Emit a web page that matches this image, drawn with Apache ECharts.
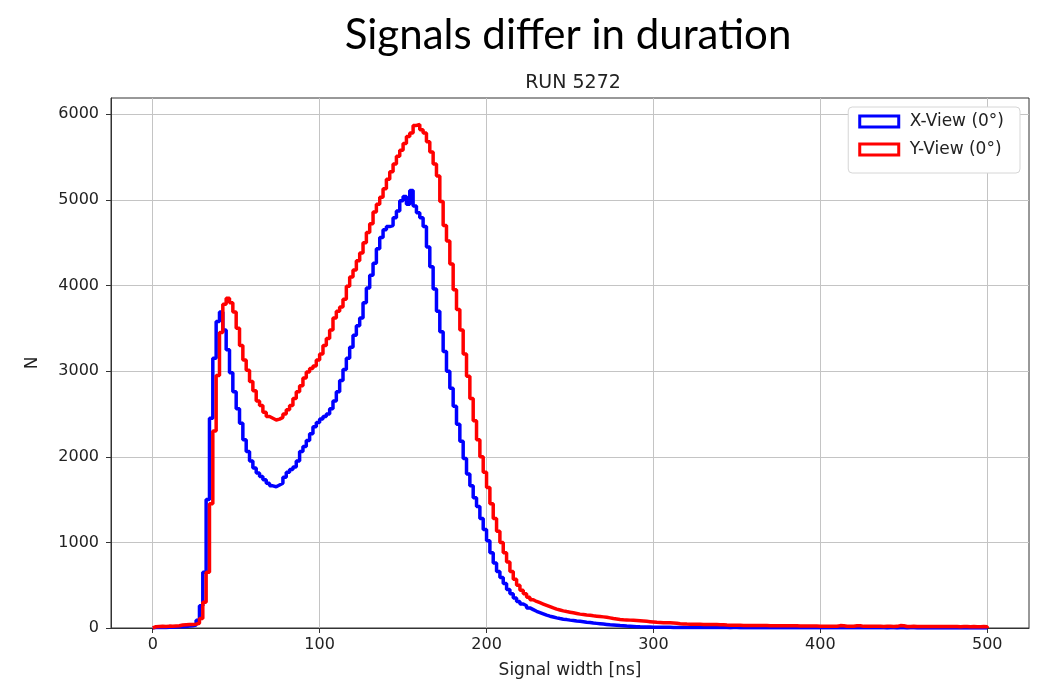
<!DOCTYPE html>
<html>
<head>
<meta charset="utf-8">
<script src="https://cdn.jsdelivr.net/npm/echarts@6/dist/echarts.min.js"></script>
<style>
html,body{margin:0;padding:0;background:#fff;}
#chart{width:1038px;height:685px;}
</style>
</head>
<body>
<div id="chart"></div>
<script>
// Histogram bin settings (ns)
const binStart = 0;
const binWidth = 2;
const xTicks = [0, 100, 200, 300, 400, 500];
const yTicks = [0, 1000, 2000, 3000, 4000, 5000, 6000];

// X-View (0°) counts per 2 ns bin, 0..500 ns
const xViewCounts = [
  5,6,8,7,10,9,12,14,16,18,
  22,26,35,90,260,650,1500,2450,3150,3580,
  3690,3480,3250,2980,2760,2560,2390,2200,2060,1950,
  1870,1810,1770,1730,1690,1660,1650,1670,1690,1760,
  1820,1850,1880,1950,2060,2120,2190,2270,2350,2400,
  2440,2470,2500,2560,2650,2760,2890,3020,3150,3280,
  3420,3530,3620,3800,3970,4120,4260,4430,4560,4650,
  4690,4700,4790,4870,4990,5040,4950,5110,4930,4850,
  4790,4690,4450,4220,3960,3700,3460,3230,3000,2800,
  2590,2380,2180,1980,1800,1660,1520,1420,1280,1150,
  1020,880,760,660,590,520,450,400,350,310,
  280,260,235,215,195,180,165,150,138,128,
  118,110,103,98,92,88,82,78,74,68,
  64,58,54,50,46,42,38,35,32,28,
  25,22,20,18,16,14,13,12,11,10,
  9,9,8,8,8,7,7,7,7,6,
  6,6,6,5,6,5,5,5,6,5,
  5,5,4,5,5,4,4,5,4,4,
  4,4,4,3,4,4,3,4,3,3,
  3,4,3,3,3,3,2,3,3,3,
  3,2,3,2,3,2,2,3,2,2,
  2,2,2,3,2,2,2,2,2,1,
  2,2,1,2,2,1,2,2,1,2,
  1,2,1,1,2,1,1,2,1,1,
  1,1,1,2,1,1,1,1,1,1
];

// Y-View (0°) counts per 2 ns bin, 0..500 ns
const yViewCounts = [
  15,18,20,17,22,20,24,26,35,38,
  40,42,45,55,110,300,650,1450,2300,2950,
  3450,3780,3850,3800,3690,3500,3300,3130,3010,2880,
  2770,2650,2600,2520,2470,2450,2430,2440,2460,2500,
  2550,2600,2680,2760,2830,2920,2990,3030,3060,3130,
  3200,3300,3380,3480,3620,3700,3750,3840,3990,4100,
  4180,4290,4380,4500,4620,4720,4860,4950,5030,5130,
  5240,5330,5420,5510,5580,5660,5740,5780,5870,5880,
  5820,5780,5680,5560,5420,5280,4980,4700,4520,4250,
  3950,3720,3480,3200,2940,2680,2420,2200,2000,1820,
  1640,1450,1280,1130,1000,880,770,660,570,500,
  440,400,360,330,310,295,280,265,250,235,
  220,210,200,192,185,178,170,162,158,152,
  148,142,138,134,130,125,118,110,105,100,
  96,94,92,90,88,86,82,78,74,70,
  66,64,62,60,60,58,56,50,48,46,
  45,44,44,43,42,42,41,40,40,39,
  38,34,33,32,32,31,30,30,30,29,
  29,28,28,28,27,27,27,26,26,26,
  25,25,25,24,24,24,23,23,22,21,
  21,20,21,20,20,28,27,20,19,20,
  27,26,19,20,19,19,20,19,18,19,
  19,18,19,28,27,18,18,19,18,18,
  17,18,18,17,18,17,17,18,17,17,
  17,16,17,17,16,17,16,16,17,16
];

const seriesNames = ['X-View (0°)', 'Y-View (0°)'];
const seriesColors = ['#0000ff', '#ff0000'];

function stepPoints(counts) {
  const pts = [[binStart, 0]];
  for (let i = 0; i < counts.length; i++) {
    pts.push([binStart + i * binWidth, counts[i]]);
  }
  const lastEdge = binStart + counts.length * binWidth;
  pts.push([lastEdge, counts[counts.length - 1]]);
  pts.push([lastEdge, 0]);
  return pts;
}

const chart = echarts.init(document.getElementById('chart'), null, {renderer: 'canvas'});
const font = 'DejaVu Sans';
const plain = v => String(v);
const option = {
  backgroundColor: '#ffffff',
  animation: false,
  title: [
    {
      text: 'Signals differ in duration',
      left: 563, top: 9, textAlign: 'center',
      textStyle: {fontFamily: 'Lato', fontSize: 42, fontWeight: 'normal', color: '#000'}
    },
    {
      text: 'RUN 5272',
      left: 568, top: 69, textAlign: 'center',
      textStyle: {fontFamily: font, fontSize: 19, fontWeight: 'normal', color: '#222'}
    }
  ],
  legend: {
    orient: 'vertical',
    right: 18, top: 107,
    padding: [6, 16, 15, 10],
    itemGap: 11,
    itemWidth: 39, itemHeight: 11,
    icon: 'rect',
    backgroundColor: '#ffffff',
    borderColor: '#d6d6d6', borderWidth: 1, borderRadius: 4,
    textStyle: {fontFamily: font, fontSize: 17, color: '#222', padding: [0, 0, 0, 6]},
    data: seriesNames.map((n, i) => ({
      name: n,
      icon: 'rect',
      itemStyle: {color: '#ffffff', borderColor: seriesColors[i], borderWidth: 3}
    }))
  },
  grid: {
    left: 111, right: 9, top: 98, bottom: 57,
    show: true, borderColor: '#333', borderWidth: 1, backgroundColor: 'transparent'
  },
  xAxis: {
    type: 'value',
    min: -25, max: 525,
    name: 'Signal width [ns]',
    nameLocation: 'middle', nameGap: 34,
    nameTextStyle: {fontFamily: font, fontSize: 17, color: '#222'},
    axisLine: {show: true, onZero: false, lineStyle: {color: '#333', width: 1}},
    axisTick: {show: true, length: 5, inside: false, customValues: xTicks, lineStyle: {color: '#333'}},
    axisLabel: {customValues: xTicks, formatter: plain, margin: 9, fontFamily: font, fontSize: 16, color: '#222'},
    splitLine: {show: true, lineStyle: {color: '#c4c4c4', width: 1}}
  },
  yAxis: {
    type: 'value',
    min: 0, max: 6190,
    name: 'N',
    nameLocation: 'middle', nameGap: 70,
    nameTextStyle: {fontFamily: font, fontSize: 17, color: '#222'},
    axisLine: {show: true, onZero: false, lineStyle: {color: '#333', width: 1}},
    axisTick: {show: true, length: 5, inside: false, customValues: yTicks, lineStyle: {color: '#333'}},
    axisLabel: {customValues: yTicks, formatter: plain, margin: 12, fontFamily: font, fontSize: 16, color: '#222'},
    splitLine: {show: true, lineStyle: {color: '#c4c4c4', width: 1}}
  },
  series: [
    {
      name: seriesNames[0], type: 'line', step: 'end', symbol: 'none',
      itemStyle: {color: seriesColors[0]},
      lineStyle: {color: seriesColors[0], width: 3.5},
      data: stepPoints(xViewCounts), z: 2
    },
    {
      name: seriesNames[1], type: 'line', step: 'end', symbol: 'none',
      itemStyle: {color: seriesColors[1]},
      lineStyle: {color: seriesColors[1], width: 3.5},
      data: stepPoints(yViewCounts), z: 3
    }
  ]
};
chart.setOption(option);
</script>
</body>
</html>
